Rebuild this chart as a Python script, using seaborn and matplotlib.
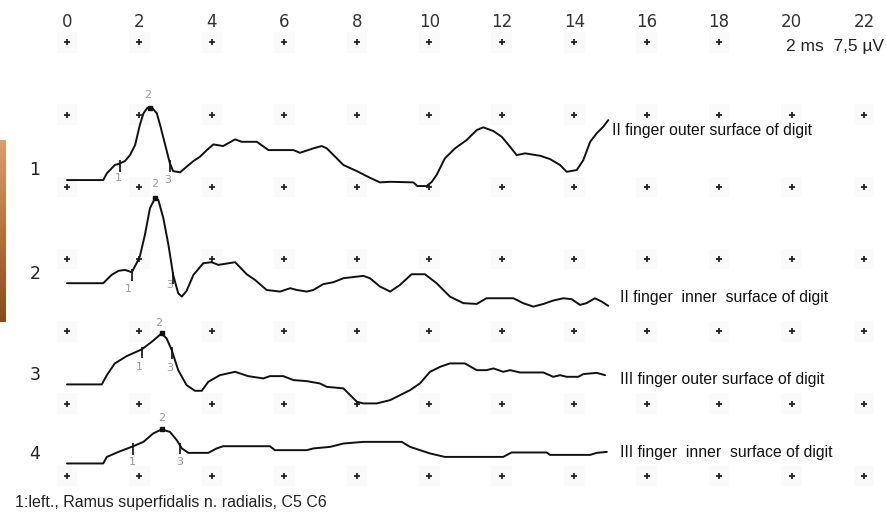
import matplotlib
matplotlib.use("Agg")
import matplotlib.pyplot as plt
import numpy as np
import pandas as pd
import seaborn as sns

# time (ms) and amplitude (µV, relative to each trace's own baseline)
t1 = [0, 1.00, 1.10, 1.32, 1.46, 1.60, 1.74, 1.88, 2.01, 2.11, 2.22, 2.34, 2.48, 2.57, 2.70, 2.84, 2.93, 3.12,
      3.30, 3.49, 3.67, 3.86, 4.04, 4.31, 4.64, 4.82, 5.24, 5.56, 6.25, 6.43, 6.80, 7.03, 7.17, 7.54, 7.63, 8.00,
      8.36, 8.64, 8.92, 9.56, 9.67, 9.93, 10.07, 10.20, 10.43, 10.71, 11.03, 11.31, 11.49, 11.77, 12.00, 12.23,
      12.41, 12.64, 13.06, 13.33, 13.61, 13.79, 14.07, 14.25, 14.44, 14.62, 14.80, 14.94]
v1 = [0, 0, 0.70, 1.56, 1.73, 1.97, 2.59, 3.63, 5.71, 6.92, 7.50, 7.54, 6.92, 5.71, 3.81, 1.73, 0.93, 0.80,
      1.38, 1.97, 2.42, 3.11, 3.70, 3.53, 4.22, 3.97, 3.97, 3.11, 3.11, 2.83, 3.29, 3.53, 3.29, 1.90, 1.56, 0.93,
      0.24, -0.24, -0.18, -0.24, -0.62, -0.62, -0.18, 0.52, 2.25, 3.29, 4.15, 5.19, 5.47, 5.08, 4.49, 3.45,
      2.59, 2.77, 2.52, 2.18, 1.56, 0.86, 1.04, 2.07, 3.97, 4.85, 5.53, 6.22]

t2 = [0, 1.00, 1.23, 1.42, 1.60, 1.79, 1.92, 2.01, 2.15, 2.29, 2.43, 2.52, 2.66, 2.80, 2.93, 3.07, 3.17, 3.30,
      3.49, 3.76, 3.99, 4.18, 4.64, 4.96, 5.19, 5.51, 5.88, 6.16, 6.34, 6.62, 6.80, 7.07, 7.35, 7.63, 8.18, 8.36,
      8.64, 8.92, 9.19, 9.51, 9.88, 10.20, 10.57, 10.94, 11.31, 11.58, 12.32, 12.59, 12.87, 13.15, 13.42, 13.70,
      13.93, 14.16, 14.34, 14.57, 14.76, 14.94]
v2 = [0, 0, 0.86, 1.28, 1.38, 1.14, 2.07, 2.76, 5.01, 7.78, 8.82, 8.64, 6.74, 3.97, 0.86, -1.04, -1.39, -0.80,
      0.86, 2.07, 2.18, 1.90, 2.18, 0.93, 0.34, -0.70, -0.87, -0.52, -0.70, -0.87, -0.70, -0.10, 0.10, 0.52, 0.76,
      0.52, -0.35, -0.87, -0.18, 0.93, 0.93, 0, -1.39, -2.07, -2.15, -1.56, -1.56, -2.07, -2.43, -2.15, -1.80,
      -1.56, -1.66, -2.25, -2.07, -1.56, -1.91, -2.35]

t3 = [0, 0.96, 1.10, 1.32, 1.65, 2.06, 2.34, 2.61, 2.75, 2.89, 3.07, 3.30, 3.53, 3.72, 3.90, 4.22, 4.64, 5.00,
      5.42, 5.60, 5.97, 6.25, 6.62, 6.98, 7.17, 7.63, 8.00, 8.18, 8.55, 8.92, 9.47, 9.74, 10.02, 10.30, 10.57,
      10.98, 11.31, 11.58, 11.77, 12.04, 12.23, 12.50, 13.15, 13.42, 13.61, 13.79, 14.11, 14.25, 14.62, 14.85]
v3 = [0, 0, 0.96, 2.18, 2.94, 3.63, 4.42, 5.29, 4.77, 3.56, 1.48, -0.07, -0.66, -0.66, 0.27, 0.96, 1.31, 0.86,
      0.62, 0.86, 0.86, 0.45, 0.34, 0.10, -0.25, -0.41, -1.80, -1.97, -1.97, -1.63, -0.59, 0.10, 1.31, 1.83, 2.18,
      2.18, 1.48, 1.48, 1.66, 1.31, 1.48, 1.24, 1.24, 0.79, 0.96, 0.79, 0.79, 1.07, 1.20, 0.96]

t4 = [0, 1.00, 1.10, 1.42, 1.83, 2.11, 2.38, 2.61, 2.84, 3.03, 3.17, 3.35, 3.90, 4.13, 4.31, 5.60, 5.74, 6.62,
      6.80, 7.26, 7.63, 8.18, 9.24, 9.47, 10.02, 10.43, 12.04, 12.27, 13.24, 13.33, 14.44, 14.62, 14.90]
v4 = [0, 0, 0.68, 1.20, 1.79, 2.24, 3.11, 3.53, 3.28, 2.42, 1.56, 1.10, 1.10, 1.56, 1.79, 1.79, 1.38, 1.38,
      1.56, 1.72, 2.07, 2.24, 2.24, 1.72, 1.04, 0.68, 0.68, 1.14, 1.14, 0.89, 0.89, 1.10, 1.20]

trace_ids = ["1", "2", "3", "4"]
baselines = [30.7, 20.0, 9.5, 1.3]   # µV offset of each trace on the sheet
descriptions = ["II finger outer surface of digit",
                "II finger  inner  surface of digit",
                "III finger outer surface of digit",
                "III finger  inner  surface of digit"]
desc_y = [35.8, 18.5, 10.0, 2.4]

# cursor markers 1/2/3: time of cursor and label position (ms, µV rel. baseline)
cursor_t = [[1.46, 2.30, 2.84], [1.79, 2.43, 2.93], [2.06, 2.61, 2.89], [1.83, 2.61, 3.12]]
label_t = [[1.41, 2.24, 2.79], [1.68, 2.43, 2.84], [2.01, 2.54, 2.84], [1.79, 2.61, 3.10]]
label_v = [[0.2, 8.8, 0.0], [-0.6, 10.3, -0.2], [1.8, 6.4, 1.7], [0.15, 4.7, 0.15]]

time_ticks = list(range(0, 23, 2))
grid_rows = [0, 7.5, 15, 22.5, 30, 37.5, 45]

sns.set_theme(style="white")
plt.rcParams['font.family'] = ['DejaVu Sans']

fig = plt.figure(figsize=(8.86, 5.24), dpi=100)
ax = fig.add_axes([0, 0, 1, 1])
ax.set_xlim(-1.849, 22.605)
ax.set_ylim(-4.98, 49.38)
ax.axis("off")

# grid of little crosses (with the faint smudge around each one)
gx, gy = np.meshgrid(time_ticks, grid_rows)
grid = pd.DataFrame({"t": gx.ravel(), "v": gy.ravel()})
grid = grid[~((grid["v"] == 45) & (grid["t"] >= 20))]
sns.scatterplot(data=grid, x="t", y="v", marker="s", s=220, color="#fafafa",
                edgecolor="none", ax=ax, legend=False, zorder=1)
sns.scatterplot(data=grid, x="t", y="v", marker="+", s=18, color="#222222",
                linewidth=1.3, ax=ax, legend=False, zorder=2)

# time labels along the top
for t in time_ticks:
    ax.text(t, 47.1, str(t), ha="center", va="center", fontsize=12, color="#333333")
ax.text(22.55, 44.6, "2 ms  7,5 µV", ha="right", va="center", fontsize=12.5,
        color="#222222", family="Liberation Sans")

traces = [(t1, v1), (t2, v2), (t3, v3), (t4, v4)]
for i, (tt, vv) in enumerate(traces):
    base = baselines[i]
    df = pd.DataFrame({"t": tt, "v": np.array(vv) + base})
    sns.lineplot(data=df, x="t", y="v", sort=False, estimator=None, color="#111111",
                 linewidth=1.4, ax=ax, zorder=3)
    ax.text(-0.88, base + 1.0, trace_ids[i], ha="center", va="center", fontsize=12.5, color="#222222")
    ax.text(15.05 if i == 0 else 15.25, desc_y[i], descriptions[i], ha="left", va="center",
            fontsize=11.3, color="#111111", family="Liberation Sans")
    # cursors
    for k in range(3):
        ct = cursor_t[i][k]
        cv = np.interp(ct, tt, vv) + base
        if k == 1:
            ax.plot([ct], [cv], marker="s", ms=2.5, color="#111111", zorder=4)
        else:
            ax.vlines(ct, cv - 0.9, cv + 0.3, color="#111111", linewidth=1.2, zorder=4)
        ax.text(label_t[i][k], label_v[i][k] + base, str(k + 1), ha="center", va="center",
                fontsize=8, color="#9a9a9a")

# strip of a photo on the left edge
strip = fig.add_axes([0, 1 - 322 / 524, 6 / 886, 182 / 524])
grad = np.linspace(0, 1, 100).reshape(-1, 1)
strip.imshow(grad, aspect="auto", cmap=matplotlib.colors.LinearSegmentedColormap.from_list(
    "wood", ["#d8a06a", "#b8733a", "#8a4a1e"]))
strip.axis("off")

fig.text(15 / 886, 1 - 503 / 524, "1:left., Ramus superfidalis n. radialis, C5 C6", ha="left",
         va="center", fontsize=11.5, color="#222222", family="Liberation Sans")

fig.savefig("out.png", dpi=100)
